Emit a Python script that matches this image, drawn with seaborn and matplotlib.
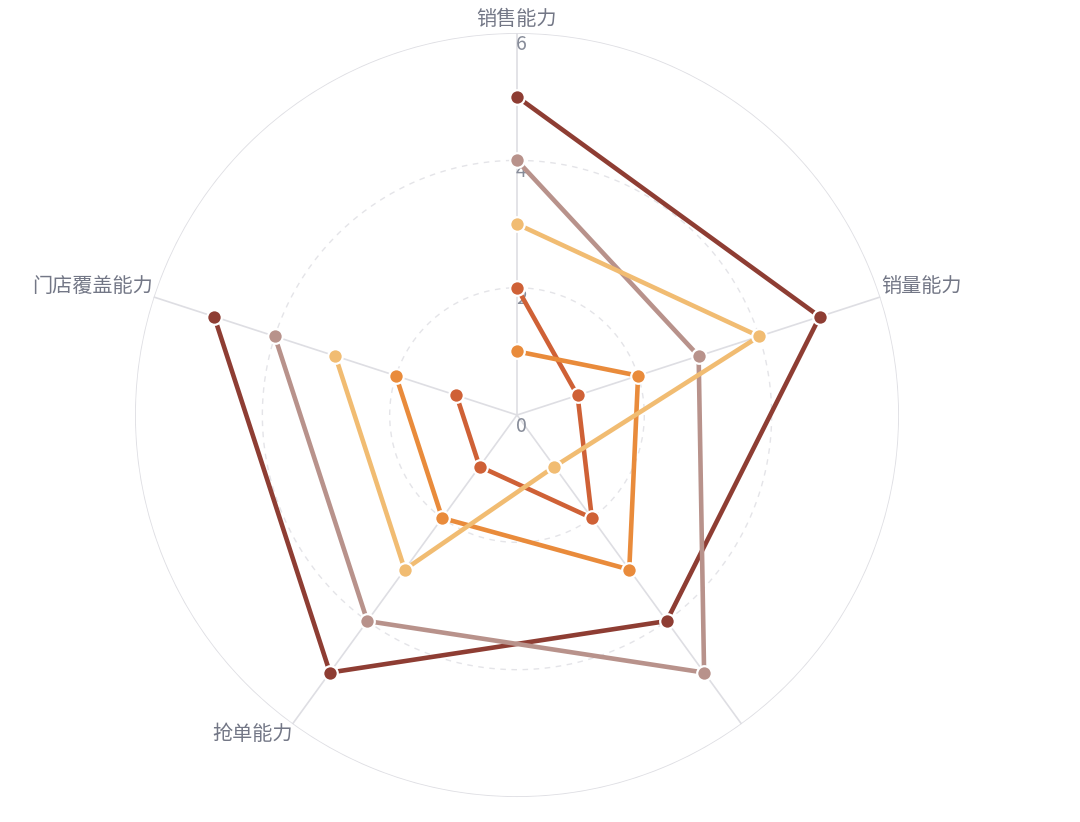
import numpy as np
import pandas as pd
import seaborn as sns
import matplotlib.pyplot as plt

# 数据
categories = ["销售能力", "销量能力", "", "抢单能力", "门店覆盖能力"]
s_dark = [5, 5, 4, 5, 5]
s_rosy = [4, 3, 5, 4, 4]
s_light = [3, 4, 1, 3, 3]
s_orange = [1, 2, 3, 2, 2]
s_red = [2, 1, 2, 1, 1]
r_ticks = [0, 2, 4, 6]

series = [
    ("s_dark", s_dark, "#8e3d33"),
    ("s_rosy", s_rosy, "#b8928b"),
    ("s_red", s_red, "#cf6136"),
    ("s_orange", s_orange, "#e98b3b"),
    ("s_light", s_light, "#f1bc72"),
]

sns.set_style("white")
plt.rcParams['font.family'] = ['Noto Sans CJK SC', 'DejaVu Sans']

n = len(categories)
angles = np.linspace(0, 2 * np.pi, n, endpoint=False)

fig = plt.figure(figsize=(10.8, 8.22), dpi=100)
fig.patch.set_facecolor("white")
ax = fig.add_axes([0.125, 0.0304, 0.7074, 0.9294], projection="polar")
ax.set_theta_offset(np.pi / 2)
ax.set_theta_direction(-1)
ax.set_ylim(0, 6)
ax.grid(False)
ax.set_xticks([])
ax.set_yticks([])
ax.spines["polar"].set_visible(False)
ax.set_facecolor("white")

# 网格
circ = np.linspace(0, 2 * np.pi, 400)
ax.plot(circ, np.full_like(circ, 6), color="#dedee3", lw=1.2, zorder=1)
for r in r_ticks[1:-1]:
    ax.plot(circ, np.full_like(circ, r), color="#e4e4e8", lw=1.0,
            ls=(0, (4, 4)), zorder=1)
for a in angles:
    ax.plot([a, a], [0, 6], color="#dedee3", lw=1.2, zorder=1)

# 刻度
for r in r_ticks:
    ax.annotate(str(r), xy=(0, r), xytext=(3, -8), textcoords="offset points",
                ha="center", va="center", fontsize=14, color="#878c99",
                zorder=2)

# 系列
for name, vals, col in series:
    df = pd.DataFrame({"theta": np.append(angles, angles[0]),
                       "value": vals + vals[:1]})
    sns.lineplot(data=df, x="theta", y="value", sort=False, ax=ax,
                 color=col, lw=3.3, marker="o", markersize=10.5,
                 markeredgecolor="white", markeredgewidth=1.6, zorder=3)
ax.set_xlabel("")
ax.set_ylabel("")

# 维度名称
lab_kw = dict(fontsize=14.5, color="#737786", zorder=4)
ax.text(angles[0], 6.05, categories[0], ha="center", va="bottom", **lab_kw)
ax.text(angles[1], 6.02, categories[1], ha="left", va="bottom", **lab_kw)
ax.text(angles[2], 6.05, categories[2], ha="left", va="top", **lab_kw)
ax.text(angles[3], 6.0, categories[3], ha="right", va="top", **lab_kw)
ax.text(angles[4], 6.02, categories[4], ha="right", va="bottom", **lab_kw)

fig.savefig("out.png", dpi=100, facecolor="white")
